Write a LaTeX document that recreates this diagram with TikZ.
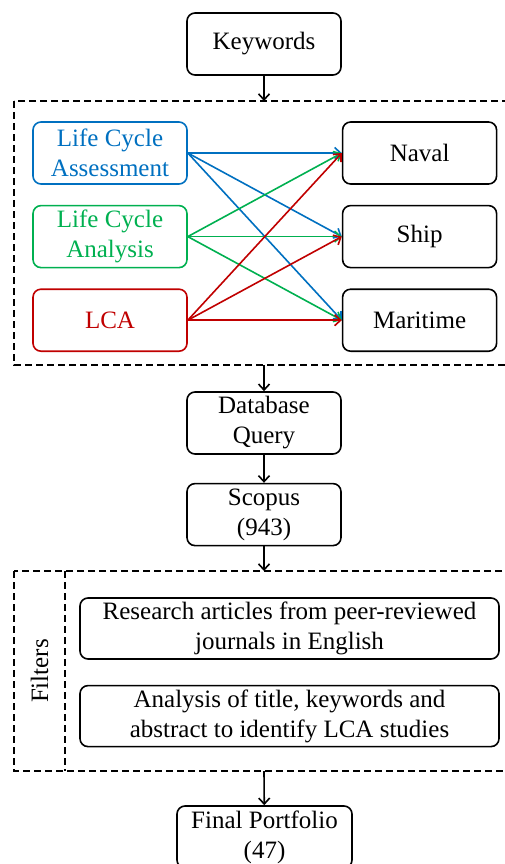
\documentclass[tikz,border=0pt]{standalone}
\usepackage{fontspec}
\setmainfont{Liberation Serif}
\usetikzlibrary{positioning,arrows,arrows.meta}
\definecolor{lcablue}{RGB}{0,112,192}
\definecolor{lcagreen}{RGB}{0,176,80}
\definecolor{lcared}{RGB}{192,0,0}
\tikzset{
  font=\fontsize{25}{30}\selectfont
}

\begin{document}
\begin{tikzpicture}[x=1pt,y=-1pt,>={Straight Barb[length=6pt,width=11pt]},
  box/.style={rectangle,rounded corners=8pt,draw,line width=1.6pt,minimum width=154pt,minimum height=62pt,align=center,inner sep=0pt},
  widebox/.style={box,minimum width=419pt,minimum height=61pt},
  group/.style={draw,dash pattern=on 7pt off 4pt,line width=1.4pt},
  link/.style={->,line width=1.6pt}]
\useasboundingbox (0,0) rectangle (505,864);
\clip (0,0) rectangle (505,864);
\node[box] (keywords) at (264,44) {Keywords};
\node[box,draw=lcablue,text=lcablue] (lcaass) at (110,153) {Life Cycle\\Assessment};
\node[box,draw=lcagreen,text=lcagreen] (lcaana) [below=20pt of lcaass] {Life Cycle\\Analysis};
\node[box,draw=lcared,text=lcared] (lcashort) [below=20pt of lcaana] {LCA};
\node[box] (naval) [right=154pt of lcaass] {Naval};
\node[box] (ship) [right=154pt of lcaana] {Ship};
\node[box] (maritime) [right=154pt of lcashort] {Maritime};
\draw[group] (14,101) rectangle (520,365);
\coordinate (kwin) at (264,101);
\coordinate (kwout) at (264,365);
\node[box] (query) at (264,423) {Database\\Query};
\node[box] (scopus) [below=28pt of query] {Scopus\\(943)};
\draw[group] (14,571) rectangle (520,771);
\draw[group] (65,571) -- (65,771);
\coordinate (filterin) at (264,571);
\coordinate (filterout) at (264,771);
\node[rotate=90] (filters) at (39.5,671) {Filters};
\node[widebox] (peer) at (289.5,628.5) {Research articles from peer-reviewed\\journals in English};
\node[widebox] (screen) [below=25pt of peer] {Analysis of title, keywords and\\abstract to identify LCA studies};
\node[box,minimum width=175pt] (final) at (264.5,837) {Final Portfolio\\(47)};
\foreach \src/\col in {lcaass/lcablue,lcaana/lcagreen,lcashort/lcared}
  \path[link,\col] (\src.east) edge (naval.west) edge (ship.west) edge (maritime.west);
\path[link] (keywords) edge (kwin)
            (kwout) edge (query)
            (query) edge (scopus)
            (scopus) edge (filterin)
            (filterout) edge (final);
\end{tikzpicture}
\end{document}
